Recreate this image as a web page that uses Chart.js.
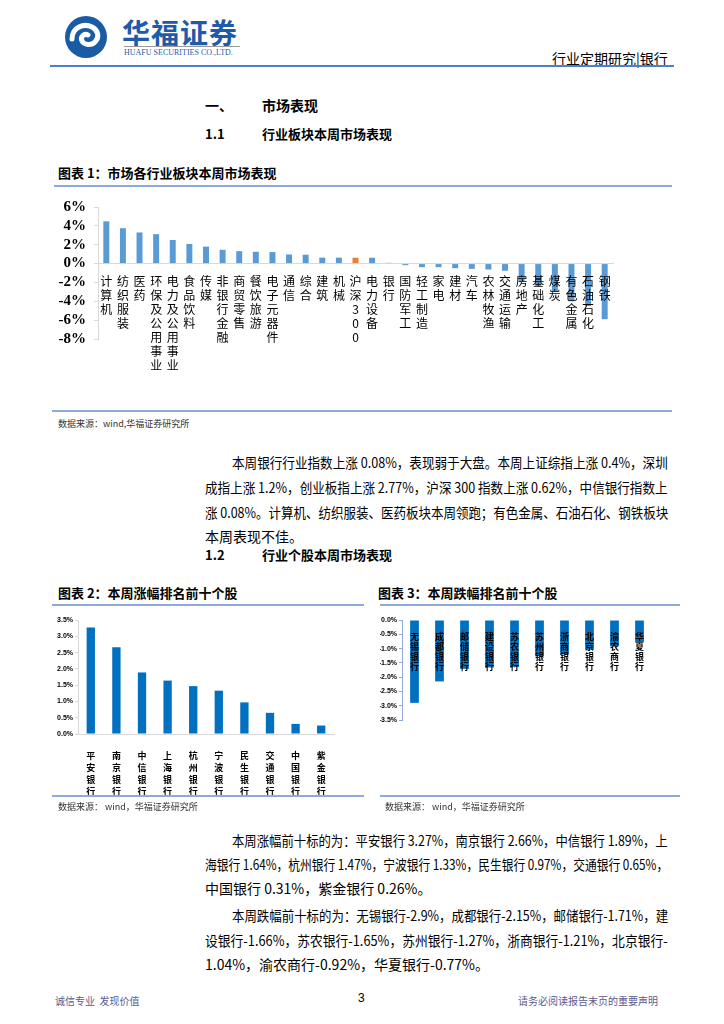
<!DOCTYPE html>
<html>
<head>
<meta charset="utf-8">
<script src="https://cdn.jsdelivr.net/npm/chart.js@4.4.1/dist/chart.umd.min.js"></script>
<style>
  body { margin: 0; background: #fff; font-family: "Noto Sans CJK SC", sans-serif; color: #000; }
  #page { position: relative; width: 724px; height: 1024px; overflow: hidden; }
  .abs { position: absolute; white-space: nowrap; }
  .hline { position: absolute; height: 2px; background: #8eaadb; }
  .ttl { font-size: 13px; font-weight: 700; }
  .src { font-size: 9px; color: #333; }
  .ln { position: absolute; font-size: 14px; white-space: nowrap; text-align: justify; text-align-last: justify; transform-origin: left center; line-height: 18px; }
  .ln.last { text-align-last: left; }
  canvas { position: absolute; }
</style>
</head>
<body>
<div id="page">
  <!-- header -->
  <svg class="abs" style="left:64px;top:15px" width="44" height="44" viewBox="0 0 44 44">
    <circle cx="22" cy="22" r="21" fill="#1a5ba6"/>
    <path d="M8 24 C8 12 20 8 28 12 C34 15 36 22 31 27 C27 31 20 30 18 26 C16 22 20 18 24 20" fill="none" stroke="#fff" stroke-width="5" stroke-linecap="round"/>
  </svg>
  <div class="abs" style="left:122px;top:12px;font-size:28px;font-weight:700;color:#1f5ba8;letter-spacing:1px;">华福证券</div>
  <div class="abs" style="left:124px;top:46px;width:116px;height:1px;background:#999"></div>
  <div class="abs" style="left:124px;top:48px;font-size:8px;color:#1f5ba8;font-family:'Liberation Serif',serif;">HUAFU SECURITIES CO.,LTD.</div>
  <div class="abs" style="left:552px;top:48px;font-size:14px;">行业定期研究|银行</div>
  <div class="hline" style="left:50px;top:65px;width:624px;background:#4f7fc4"></div>

  <div class="abs" style="left:205px;top:95px;font-size:14px;font-weight:700;">一、</div>
  <div class="abs" style="left:262px;top:95px;font-size:14px;font-weight:700;">市场表现</div>
  <div class="abs" style="left:205px;top:124px;font-size:13px;font-weight:700;">1.1</div>
  <div class="abs" style="left:262px;top:124px;font-size:13px;font-weight:700;">行业板块本周市场表现</div>

  <div class="abs ttl" style="left:58px;top:163px;">图表 1：市场各行业板块本周市场表现</div>
  <div class="hline" style="left:54px;top:185px;width:618px;"></div>
  <canvas id="c1" style="left:52px;top:190px" width="620" height="218"></canvas>
  <div class="hline" style="left:52px;top:410px;width:620px;"></div>
  <div class="abs src" style="left:58px;top:417px;">数据来源：wind,华福证券研究所</div>

  <div class="ln" style="left:232px;top:453px;width:436px;">本周银行行业指数上涨 0.08%，表现弱于大盘。本周上证综指上涨 0.4%，深圳</div>
  <div class="ln" style="left:205px;top:478px;width:463px;">成指上涨 1.2%，创业板指上涨 2.77%，沪深 300 指数上涨 0.62%，中信银行指数上</div>
  <div class="ln" style="left:205px;top:503px;width:463px;">涨 0.08%。计算机、纺织服装、医药板块本周领跑；有色金属、石油石化、钢铁板块</div>
  <div class="ln last" style="left:205px;top:527px;width:463px;">本周表现不佳。</div>

  <div class="abs" style="left:205px;top:545px;font-size:13px;font-weight:700;">1.2</div>
  <div class="abs" style="left:262px;top:545px;font-size:13px;font-weight:700;">行业个股本周市场表现</div>

  <div class="abs ttl" style="left:58px;top:583px;">图表 2：本周涨幅排名前十个股</div>
  <div class="hline" style="left:52px;top:604px;width:312px;"></div>
  <canvas id="c2" style="left:52px;top:607px" width="311" height="189"></canvas>
  <div class="hline" style="left:52px;top:795px;width:312px;"></div>
  <div class="abs src" style="left:58px;top:800px;">数据来源：&nbsp;wind，华福证券研究所</div>

  <div class="abs ttl" style="left:378px;top:583px;">图表 3：本周跌幅排名前十个股</div>
  <div class="hline" style="left:380px;top:604px;width:300px;"></div>
  <canvas id="c3" style="left:380px;top:607px" width="300" height="189"></canvas>
  <div class="hline" style="left:380px;top:795px;width:300px;"></div>
  <div class="abs src" style="left:385px;top:800px;">数据来源：&nbsp;wind，华福证券研究所</div>

  <div class="ln" style="left:232px;top:831px;width:436px;">本周涨幅前十标的为：平安银行 3.27%，南京银行 2.66%，中信银行 1.89%，上</div>
  <div class="ln" style="left:205px;top:855px;width:463px;">海银行 1.64%，杭州银行 1.47%，宁波银行 1.33%，民生银行 0.97%，交通银行 0.65%，</div>
  <div class="ln last" style="left:205px;top:879px;width:463px;">中国银行 0.31%，紫金银行 0.26%。</div>

  <div class="ln" style="left:232px;top:906px;width:436px;">本周跌幅前十标的为：无锡银行-2.9%，成都银行-2.15%，邮储银行-1.71%，建</div>
  <div class="ln" style="left:205px;top:931px;width:463px;">设银行-1.66%，苏农银行-1.65%，苏州银行-1.27%，浙商银行-1.21%，北京银行-</div>
  <div class="ln last" style="left:205px;top:955px;width:463px;">1.04%，渝农商行-0.92%，华夏银行-0.77%。</div>

  <div class="abs" style="left:55px;top:993px;font-size:10px;color:#5a5a8c;">诚信专业&nbsp;&nbsp;发现价值</div>
  <div class="abs" style="left:358px;top:991px;font-size:12px;font-family:'Liberation Sans',sans-serif;">3</div>
  <div class="abs" style="left:518px;top:993px;font-size:10px;color:#5a5a8c;">请务必阅读报告末页的重要声明</div>
</div>

<script>
// 图表1 行业板块
const sectors = ["计算机", "纺织服装", "医药", "环保及公用事业", "电力及公用事业", "食品饮料", "传媒", "非银行金融", "商贸零售", "餐饮旅游", "电子元器件", "通信", "综合", "建筑", "机械", "沪深300", "电力设备", "银行", "国防军工", "轻工制造", "家电", "建材", "汽车", "农林牧渔", "交通运输", "房地产", "基础化工", "煤炭", "有色金属", "石油石化", "钢铁"];
const sectorChange = [4.48, 3.75, 3.3, 3.12, 2.5, 2.08, 1.8, 1.46, 1.32, 1.25, 1.22, 0.97, 0.94, 0.63, 0.63, 0.62, 0.62, 0.08, -0.17, -0.38, -0.38, -0.49, -0.56, -0.63, -0.76, -1.9, -2.4, -3.0, -4.0, -4.5, -5.9];
const highlight = ["沪深300", "银行"];
const sectorTicks = [6, 4, 2, 0, -2, -4, -6, -8];

// 图表2 涨幅前十
const gainers = ["平安银行", "南京银行", "中信银行", "上海银行", "杭州银行", "宁波银行", "民生银行", "交通银行", "中国银行", "紫金银行"];
const gainerPct = [3.27, 2.66, 1.89, 1.64, 1.47, 1.33, 0.97, 0.65, 0.31, 0.26];

// 图表3 跌幅前十
const losers = ["无锡银行", "成都银行", "邮储银行", "建设银行", "苏农银行", "苏州银行", "浙商银行", "北京银行", "渝农商行", "华夏银行"];
const loserPct = [-2.9, -2.15, -1.71, -1.66, -1.65, -1.27, -1.21, -1.04, -0.92, -0.77];

// vertical labels: one character per line
function vert(s) {
  return Array.from(s);
}

Chart.defaults.animation = false;
Chart.defaults.responsive = false;
Chart.defaults.plugins.legend.display = false;
Chart.defaults.plugins.tooltip.enabled = false;

// Chart 1
new Chart(document.getElementById("c1").getContext("2d"), {
  type: "bar",
  data: {
    labels: sectors.map(vert),
    datasets: [
      {
        data: sectorChange,
        backgroundColor: sectors.map((s) => (highlight.includes(s) ? "#ed7d31" : "#5b9bd5")),
        barPercentage: 0.72,
        categoryPercentage: 0.5,
      },
    ],
  },
  options: {
    layout: { padding: { top: 13, right: 59, bottom: 69, left: 0 } },
    scales: {
      x: {
        position: { y: 0 },
        grid: { display: false },
        border: { color: "#d9d9d9" },
        ticks: {
          z: 1, // labels over the bars, like the original
          autoSkip: false,
          maxRotation: 0,
          padding: 3,
          color: "#000",
          font: { family: "'Noto Sans CJK SC'", size: 12, lineHeight: 1.17 },
        },
      },
      y: {
        min: -8,
        max: 6,
        afterFit: (scale) => { scale.width = 46; },
        afterBuildTicks: (scale) => { scale.ticks = sectorTicks.map((v) => ({ value: v })); },
        grid: { drawOnChartArea: false, drawTicks: true, tickLength: 4, color: "#d9d9d9" },
        border: { color: "#d9d9d9" },
        ticks: {
          autoSkip: false,
          color: "#000",
          padding: 8,
          font: { family: "'Liberation Serif'", size: 15, weight: "bold" },
          callback: (v) => v + "%",
        },
      },
    },
  },
});

// Chart 2
new Chart(document.getElementById("c2").getContext("2d"), {
  type: "bar",
  data: {
    labels: gainers.map(vert),
    datasets: [{ data: gainerPct, backgroundColor: "#0070c0", barPercentage: 0.65, categoryPercentage: 0.5 }],
  },
  options: {
    layout: { padding: { top: 13, right: 29, bottom: 0, left: 0 } },
    scales: {
      x: {
        afterFit: (scale) => { scale.height = 62; },
        grid: { display: false },
        border: { color: "#d9d9d9" },
        ticks: {
          autoSkip: false,
          maxRotation: 0,
          padding: 8,
          color: "#000",
          font: { family: "'Noto Sans CJK SC'", size: 9, weight: "bold", lineHeight: 1.33 },
        },
      },
      y: {
        min: 0,
        max: 3.5,
        afterFit: (scale) => { scale.width = 26; },
        grid: { drawOnChartArea: false, drawTicks: true, tickLength: 3, color: "#d9d9d9" },
        border: { color: "#d9d9d9" },
        ticks: {
          autoSkip: false,
          stepSize: 0.5,
          color: "#000",
          padding: 2,
          font: { family: "'Liberation Sans Narrow', 'Liberation Sans'", size: 7, weight: "bold" },
          callback: (v) => v.toFixed(1) + "%",
        },
      },
    },
  },
});

// Chart 3
new Chart(document.getElementById("c3").getContext("2d"), {
  type: "bar",
  data: {
    labels: losers.map(vert),
    datasets: [{ data: loserPct, backgroundColor: "#0070c0", barPercentage: 0.7, categoryPercentage: 0.5 }],
  },
  options: {
    layout: { padding: { top: 13, right: 28, bottom: 76, left: 0 } },
    scales: {
      x: {
        position: { y: 0 },
        grid: { display: false },
        border: { display: false },
        ticks: {
          z: 1,
          autoSkip: false,
          maxRotation: 0,
          padding: 4,
          color: "#000",
          font: { family: "'Noto Sans CJK SC'", size: 9, weight: "bold", lineHeight: 1.1 },
        },
      },
      y: {
        min: -3.5,
        max: 0,
        afterFit: (scale) => { scale.width = 22; },
        grid: { drawOnChartArea: false, drawTicks: true, tickLength: 3, color: "#8eaadb" },
        border: { color: "#8eaadb" },
        ticks: {
          autoSkip: false,
          stepSize: 0.5,
          color: "#000",
          padding: 2,
          font: { family: "'Liberation Sans Narrow', 'Liberation Sans'", size: 7, weight: "bold" },
          callback: (v) => v.toFixed(1) + "%",
        },
      },
    },
  },
});

// squeeze text lines that are wider than their box
document.querySelectorAll(".ln").forEach((el) => {
  const target = el.clientWidth;
  el.style.width = "auto";
  const natural = el.scrollWidth;
  if (natural > target) {
    el.style.transform = "scaleX(" + (target / natural) + ")";
  } else {
    el.style.width = target + "px";
  }
});
</script>
</body>
</html>
